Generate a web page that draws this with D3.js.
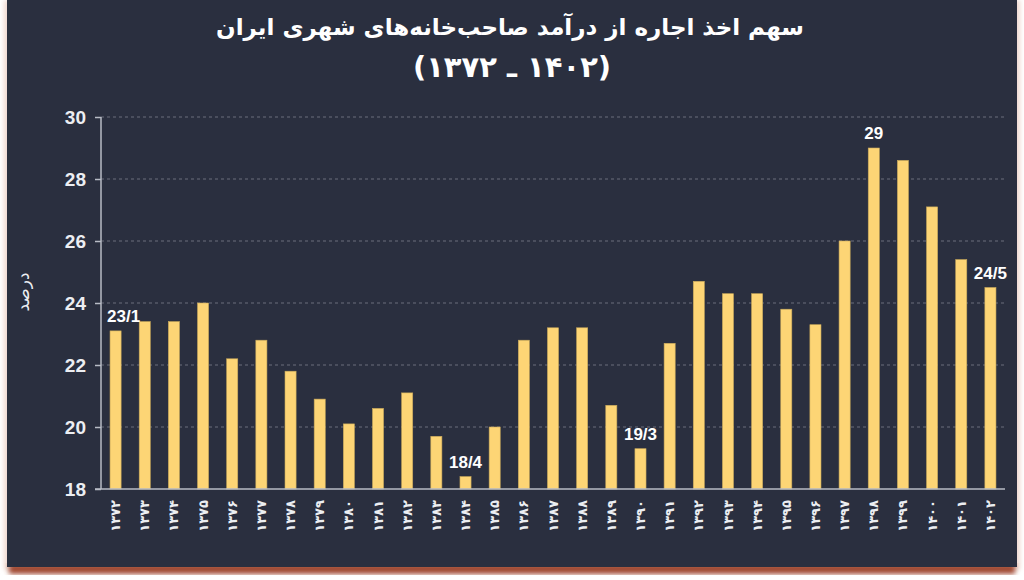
<!DOCTYPE html>
<html>
<head>
<meta charset="utf-8">
<script src="https://cdn.jsdelivr.net/npm/d3@7/dist/d3.min.js"></script>
<style>
  html, body { margin: 0; padding: 0; background: #ffffff; }
  svg { display: block; }
</style>
</head>
<body>
<svg id="chart" width="1024" height="580"></svg>
<script>
// ---- data ----
const years = ["۱۳۷۲","۱۳۷۳","۱۳۷۴","۱۳۷۵","۱۳۷۶","۱۳۷۷","۱۳۷۸","۱۳۷۹","۱۳۸۰","۱۳۸۱",
               "۱۳۸۲","۱۳۸۳","۱۳۸۴","۱۳۸۵","۱۳۸۶","۱۳۸۷","۱۳۸۸","۱۳۸۹","۱۳۹۰","۱۳۹۱",
               "۱۳۹۲","۱۳۹۳","۱۳۹۴","۱۳۹۵","۱۳۹۶","۱۳۹۷","۱۳۹۸","۱۳۹۹","۱۴۰۰","۱۴۰۱","۱۴۰۲"];
const values = [23.1, 23.4, 23.4, 24.0, 22.2, 22.8, 21.8, 20.9, 20.1, 20.6,
                21.1, 19.7, 18.4, 20.0, 22.8, 23.2, 23.2, 20.7, 19.3, 22.7,
                24.7, 24.3, 24.3, 23.8, 23.3, 26.0, 29.0, 28.6, 27.1, 25.4, 24.5];
const labelled = [
  {year: "۱۳۷۲", text: "23/1"},
  {year: "۱۳۸۴", text: "18/4"},
  {year: "۱۳۹۰", text: "19/3"},
  {year: "۱۳۹۸", text: "29"},
  {year: "۱۴۰۲", text: "24/5"}
];
const yTicks = [18, 20, 22, 24, 26, 28, 30];
const titleLine1 = "سهم اخذ اجاره از درآمد صاحب‌خانه‌های شهری ایران";
const titleLine2 = "(۱۳۷۲ ـ ۱۴۰۲)";   // drawn in visual (left-to-right) order
const yAxisTitle = "درصد";

// ---- drawing ----
const svg = d3.select("#chart");
const panel = {x: 7, y: 0, w: 1010, h: 567};
const m = {left: 101, right: 1005, top: 117, bottom: 489};

const defs = svg.append("defs");
const blur = defs.append("filter").attr("id", "sh").attr("x", "-5%").attr("y", "-5%").attr("width", "110%").attr("height", "115%");
blur.append("feGaussianBlur").attr("stdDeviation", 2.5);

// shadows
svg.append("rect").attr("x", panel.x - 3).attr("y", panel.y).attr("width", panel.w + 6).attr("height", panel.h + 3)
  .attr("fill", "#f0d8d0").attr("filter", "url(#sh)");
svg.append("rect").attr("x", panel.x + 2).attr("y", panel.h - 3).attr("width", panel.w - 4).attr("height", 10)
  .attr("fill", "#a04a30").attr("filter", "url(#sh)");
svg.append("rect").attr("x", panel.x).attr("y", panel.y).attr("width", panel.w).attr("height", panel.h)
  .attr("fill", "#2a2f3f");

const x = d3.scaleBand().domain(years).range([m.left, m.right]).paddingInner(0.62).paddingOuter(0.31);
const y = d3.scaleLinear().domain([18, 30]).range([m.bottom, m.top]);

// gridlines
svg.append("g").selectAll("line").data(yTicks.filter(t => t !== 18)).join("line")
  .attr("x1", m.left).attr("x2", m.right)
  .attr("y1", d => y(d)).attr("y2", d => y(d))
  .attr("stroke", "#6a6f7d").attr("stroke-width", 1).attr("stroke-dasharray", "3,3");

// y axis
const yAxis = svg.append("g").attr("transform", `translate(${m.left},0)`)
  .call(d3.axisLeft(y).tickValues(yTicks).tickSize(6).tickPadding(9).tickFormat(d3.format("d")));
yAxis.select(".domain").attr("stroke", "#b8bcc6").attr("stroke-width", 1.5).attr("d", `M0,${m.top}V${m.bottom}`);
yAxis.selectAll(".tick line").attr("stroke", "#b8bcc6").attr("stroke-width", 1.5);
yAxis.selectAll(".tick text").attr("fill", "#eceef2").attr("font-family", "Liberation Sans, Arial, sans-serif")
  .attr("font-weight", "bold").attr("font-size", 19);

// bars
svg.append("g").selectAll("rect").data(values).join("rect")
  .attr("x", (d, i) => x(years[i]))
  .attr("width", x.bandwidth())
  .attr("y", d => y(d))
  .attr("height", d => y(18) - y(d))
  .attr("fill", "#fdd575")
  .attr("stroke", "#c9a95a").attr("stroke-width", 0.6);

// x axis
const xAxis = svg.append("g").attr("transform", `translate(0,${m.bottom})`)
  .call(d3.axisBottom(x).tickSize(0).tickPadding(0));
xAxis.select(".domain").attr("stroke", "#b8bcc6").attr("stroke-width", 1.5).attr("d", `M${m.left - 6},0H${m.right}`);
xAxis.selectAll(".tick text")
  .attr("fill", "#eceef2").attr("font-family", "DejaVu Sans, sans-serif").attr("font-weight", "bold").attr("font-size", 13)
  .attr("transform", "rotate(-90)")
  .attr("text-anchor", "end")
  .attr("x", -11).attr("y", 0).attr("dy", "0.35em");

// value labels
const valueOf = yr => values[years.indexOf(yr)];
svg.append("g").selectAll("text").data(labelled).join("text")
  .attr("x", d => x(d.year) + x.bandwidth() / 2 + (d.year === years[0] ? 8 : 0))
  .attr("y", d => y(valueOf(d.year)) - 9)
  .attr("text-anchor", "middle")
  .attr("fill", "#ffffff").attr("font-family", "Liberation Sans, Arial, sans-serif")
  .attr("font-weight", "bold").attr("font-size", 17)
  .text(d => d.text);

// title
svg.append("text").attr("x", 510).attr("y", 35).attr("text-anchor", "middle").attr("direction", "rtl")
  .attr("fill", "#ffffff").attr("font-family", "DejaVu Sans, sans-serif").attr("font-weight", "bold").attr("font-size", 23)
  .text(titleLine1);
svg.append("text").attr("x", 512).attr("y", 77).attr("text-anchor", "middle")
  .attr("style", "unicode-bidi: bidi-override; direction: ltr")
  .attr("fill", "#ffffff").attr("font-family", "DejaVu Sans, sans-serif").attr("font-weight", "bold").attr("font-size", 29)
  .text(titleLine2);

// y axis title
svg.append("text").attr("transform", "translate(29,292) rotate(-90)").attr("text-anchor", "middle")
  .attr("fill", "#eceef2").attr("font-family", "DejaVu Sans, sans-serif").attr("font-size", 17)
  .text(yAxisTitle);
</script>
</body>
</html>
